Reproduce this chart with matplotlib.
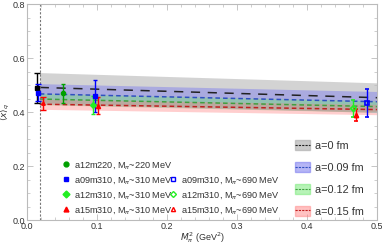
import matplotlib.pyplot as plt
import numpy as np
from matplotlib.patches import Patch
from matplotlib.lines import Line2D

plt.rcParams['font.family'] = ['Liberation Sans', 'DejaVu Sans']
plt.rcParams['mathtext.fontset'] = 'dejavusans'

# physical pion mass squared (GeV^2)
m_phys = 0.0182

# continuum / lattice-spacing bands: value at left and right end, half width
band_x = [m_phys, 0.5]
band_labels = ['a=0 fm', 'a=0.09 fm', 'a=0.12 fm', 'a=0.15 fm']
band_center = [[0.491, 0.453], [0.467, 0.438], [0.448, 0.420], [0.429, 0.409]]
band_half = [0.055, 0.038, 0.021, 0.019]

# extrapolated / physical-mass points
phys_x = [0.0138, 0.0162, 0.0222]
phys_y = [0.489, 0.472, 0.432]
phys_err = [0.054, 0.031, 0.025]

# ensembles
ens_labels = ['a12m220, M$_\\pi$~220 MeV', 'a09m310, M$_\\pi$~310 MeV',
              'a12m310, M$_\\pi$~310 MeV', 'a15m310, M$_\\pi$~310 MeV']
ens_x = [0.052, 0.097, 0.094, 0.101]
ens_y = [0.469, 0.459, 0.426, 0.424]
ens_err = [0.035, 0.06, 0.035, 0.032]

heavy_labels = ['a09m310, M$_\\pi$~690 MeV', 'a12m310, M$_\\pi$~690 MeV',
                'a15m310, M$_\\pi$~690 MeV']
heavy_x = [0.486, 0.466, 0.470]
heavy_y = [0.434, 0.414, 0.389]
heavy_err = [0.053, 0.032, 0.021]

fig = plt.figure(figsize=(3.82, 2.47), dpi=100)
ax = fig.add_axes([0.0707, 0.1093, 0.9163, 0.8745])

band_face = ['#a8a8a8', '#7878ee', '#70e870', '#ff8080']
band_line = ['#222222', '#3050c0', '#40a040', '#c02020']
band_alpha = [0.5, 0.45, 0.4, 0.38]
line_dash = [(0, (6, 5)), (0, (3, 2)), (0, (3, 2)), (0, (3, 2))]
bx = np.array(band_x)
for i in range(4):
    c = np.array(band_center[i])
    ax.fill_between(bx, c - band_half[i], c + band_half[i], color=band_face[i],
                    alpha=band_alpha[i], lw=0)
for i in range(4):
    c = np.array(band_center[i])
    ax.plot(bx, c, color=band_line[i], lw=1.1, ls=line_dash[i])

ax.axvline(m_phys, color='#777777', lw=0.8, ls=(0, (2, 1.5)))

# physical-mass points
phys_col = ['black', '#0000ff', '#ff0000']
phys_mk = ['s', 's', '^']
for i in range(3):
    ax.errorbar(phys_x[i], phys_y[i], yerr=phys_err[i], fmt=phys_mk[i], ms=2.5,
                color=phys_col[i], ecolor=phys_col[i], elinewidth=1, capsize=2)

ens_col = ['#00a000', '#0000ff', '#22ee22', '#ff0000']
ens_mk = ['o', 's', 'D', '^']
ens_handles = []
for i in range(4):
    ax.errorbar(ens_x[i], ens_y[i], yerr=ens_err[i], fmt=ens_mk[i], ms=3,
                color=ens_col[i], ecolor=ens_col[i], elinewidth=1, capsize=1.5)
    ens_handles.append(Line2D([], [], marker=ens_mk[i], ls='none', ms=3.5,
                              color=ens_col[i]))

heavy_col = ['#0000ff', '#22ee22', '#ff0000']
heavy_mk = ['s', 'D', '^']
heavy_handles = []
for i in range(3):
    ax.errorbar(heavy_x[i], heavy_y[i], yerr=heavy_err[i], fmt=heavy_mk[i], ms=3,
                mfc='none', mec=heavy_col[i], mew=1.2, color=heavy_col[i],
                elinewidth=1, capsize=1.5)
    heavy_handles.append(Line2D([], [], marker=heavy_mk[i], ls='none', ms=3,
                                mfc='none', mec=heavy_col[i], mew=1))

ax.set_xlim(0, 0.5)
ax.set_ylim(0, 0.8)
ax.set_xticks(np.arange(0, 0.51, 0.1))
ax.set_xticks(np.arange(0, 0.51, 0.02), minor=True)
ax.set_yticks(np.arange(0, 0.81, 0.2))
ax.set_yticks(np.arange(0, 0.81, 0.05), minor=True)
ax.xaxis.set_major_formatter(plt.FuncFormatter(lambda v, p: f'{v:.1f}'))
ax.yaxis.set_major_formatter(plt.FuncFormatter(lambda v, p: f'{v:.1f}'))
ax.tick_params(which='both', direction='in', top=True, right=True,
               color='#bbbbbb', labelsize=6.5, labelcolor='#333333', pad=1.5)
ax.tick_params(which='major', length=4, width=0.6)
ax.tick_params(which='minor', length=2, width=0.5)
for s in ax.spines.values():
    s.set_color('#bbbbbb')
    s.set_linewidth(0.8)

ax.set_xlabel('$M_\\pi^2$ (GeV$^2$)', fontsize=6.5, color='#333333', va='center')
ax.xaxis.set_label_coords(0.5, -0.082)
ax.set_ylabel('$\\langle x\\rangle_q$', fontsize=6.5, color='#333333', va='center')
ax.yaxis.set_label_coords(-0.062, 0.5)

leg1 = ax.legend(ens_handles, ens_labels, loc='lower left',
                 bbox_to_anchor=(0.099, 0.02), frameon=False, fontsize=6.6,
                 handlelength=1.0, handletextpad=0.3, labelspacing=0.42,
                 borderpad=0, borderaxespad=0)
for t in leg1.get_texts():
    t.set_color('#333333')
ax.add_artist(leg1)

leg2 = ax.legend(heavy_handles, heavy_labels, loc='lower left',
                 bbox_to_anchor=(0.404, 0.02), frameon=False, fontsize=6.6,
                 handlelength=1.0, handletextpad=0.4, labelspacing=0.42,
                 borderpad=0, borderaxespad=0)
for t in leg2.get_texts():
    t.set_color('#333333')
ax.add_artist(leg2)

band_handles = []
for i in range(4):
    p = Patch(facecolor=band_face[i], alpha=band_alpha[i] + 0.1,
              edgecolor=band_face[i])
    l = Line2D([], [], color=band_line[i], lw=0.8, ls=(0, (2, 1)))
    band_handles.append((p, l))
leg3 = ax.legend(band_handles, band_labels, loc='lower left',
                 bbox_to_anchor=(0.766, 0.015), frameon=False, fontsize=7.8,
                 handlelength=1.4, handleheight=1.0, handletextpad=0.45,
                 labelspacing=1.05, borderpad=0, borderaxespad=0)
for t in leg3.get_texts():
    t.set_color('#333333')

fig.savefig('out.png', dpi=100)
